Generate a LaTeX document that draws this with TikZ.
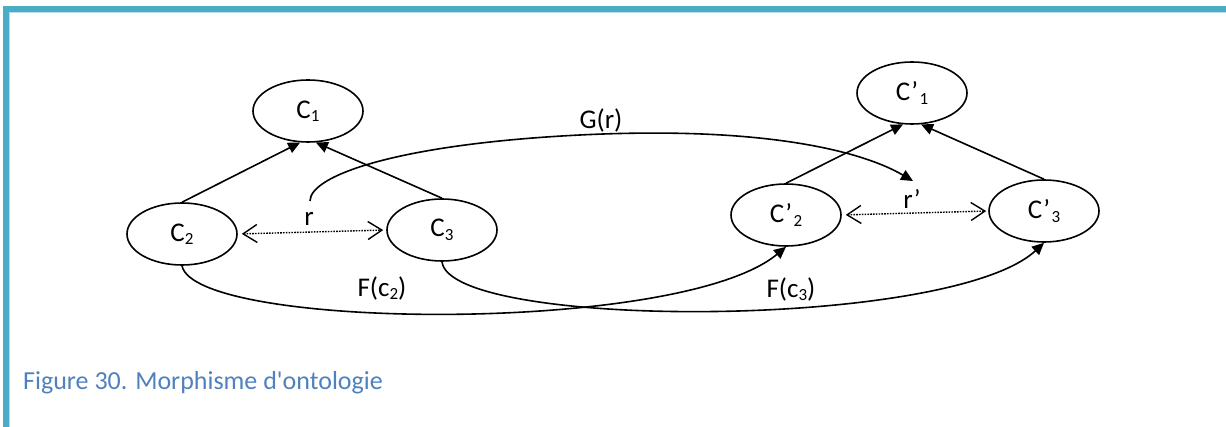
\documentclass[tikz,border=0pt]{standalone}
\usepackage{fontspec}
\setmainfont{Carlito}[Ligatures=TeXOff]
\usetikzlibrary{arrows.meta,shapes.geometric}
\definecolor{frameblue}{HTML}{4BACC6}
\definecolor{framelight}{HTML}{B7DDE8}
\definecolor{capblue}{HTML}{4F81BD}
\newcommand{\sbs}[1]{\raisebox{-3.5pt}{\fontsize{17}{17}\selectfont #1}}
\tikzset{
  concept/.style={ellipse, draw, line width=1.6pt, minimum width=110pt, minimum height=62pt, inner sep=0pt, font=\fontsize{27}{30}\selectfont},
  isa/.style={line width=1.6pt, -{Triangle[length=12pt,width=11pt]}},
  morph/.style={line width=1.6pt, -{Triangle[length=12pt,width=11pt]}},
  rel/.style={line width=1.4pt, dash pattern=on 1.6pt off 1.2pt, {Straight Barb[length=14pt,width=18pt,line width=1.4pt]}-{Straight Barb[length=14pt,width=18pt,line width=1.4pt]}},
  lbl/.style={font=\fontsize{27}{30}\selectfont, inner sep=0pt}
}
\begin{document}
\begin{tikzpicture}[x=1pt,y=-1pt]
\path[use as bounding box] (0,0) rectangle (1226,427);
% frame
\fill[frameblue] (3,6) rectangle (1226,12);
\fill[frameblue] (3,6) rectangle (9,427);
\fill[framelight] (9,12) rectangle (1226,13);
\fill[framelight] (9,12) rectangle (10,427);
% nodes
\node[concept] (c1) at (308,111) {C\sbs{1}};
\node[concept] (c2) at (182,234) {C\sbs{2}};
\node[concept] (c3) at (442,230) {C\sbs{3}};
\node[concept] (d1) at (912,93) {C’\kern1.5pt\sbs{1}};
\node[concept] (d2) at (786,215) {C’\kern1.5pt\sbs{2}};
\node[concept] (d3) at (1044,211) {C’\kern1.5pt\sbs{3}};
% is-a edges
\draw[isa] (c2.north) -- (c1.-104);
\draw[isa] (c3.north) -- (c1.-76);
\draw[isa] (d2.north) -- (d1.-106);
\draw[isa] (d3.north) -- (d1.-74);
% relations
\draw[rel, shorten <=4pt, shorten >=3pt] (c2.east) -- (c3.west);
\draw[rel, shorten <=4pt, shorten >=2pt] (d2.east) -- (d3.west);
\node[lbl] (r) at (309,219) {r};
\node[lbl] (rp) at (912,199) {r’};
% G(r)
\coordinate (gs) at (310,201);
\coordinate (gm) at (580,135);
\coordinate (ge) at (913,181);
\draw[morph] (gs) .. controls (310,175) and (400,144) .. (gm)
  .. controls (760,126) and (860,150) .. (ge);
\node[lbl] (G) at (601,121) {G(r)};
% F(c2), F(c3)
\draw[morph] (c2.south) .. controls (195,330) and (680,335) .. (d2.south);
\draw[morph] (c3.south) .. controls (450,330) and (950,330) .. (d3.south);
\node[lbl] (F2) at (382,288) {F(c\sbs{2})};
\node[lbl] (F3) at (791,289) {F(c\sbs{3})};
% caption
\node[anchor=base west, inner sep=0pt, text=capblue, font=\fontsize{26}{30}\selectfont] (cap) at (23,389) {Figure 30. Morphisme d'ontologie};
\end{tikzpicture}
\end{document}
